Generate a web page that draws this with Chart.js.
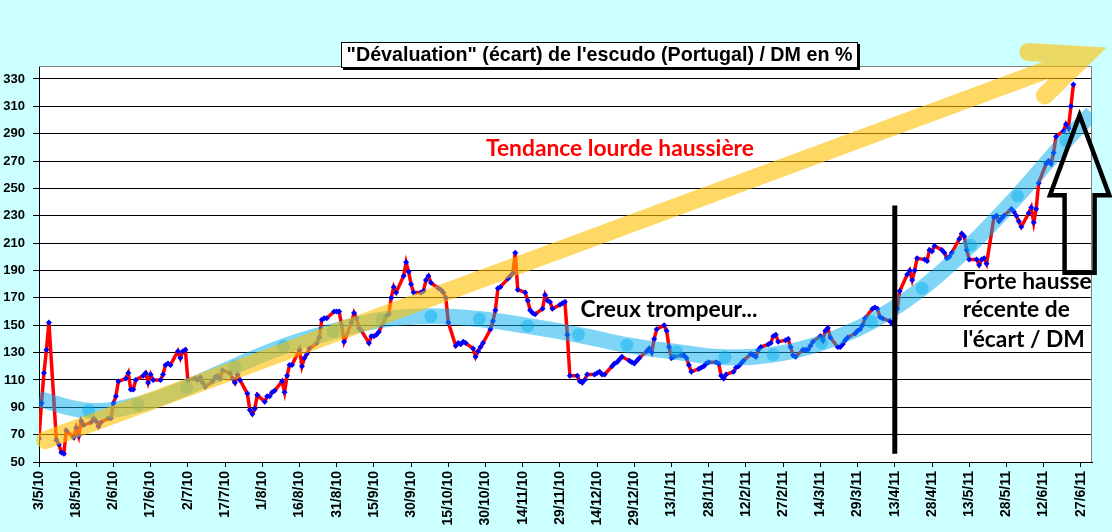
<!DOCTYPE html>
<html lang="fr">
<head>
<meta charset="UTF-8">
<title>Dévaluation de l'escudo / DM</title>
<script src="https://cdn.jsdelivr.net/npm/chart.js"></script>
<style>
  html, body { margin: 0; padding: 0; background: #ccffff; }
  #wrap { width: 1112px; height: 532px; }
</style>
</head>
<body>
<div id="wrap"><canvas id="chart"></canvas></div>
<script>
// écart escudo / DM en %, jours ouvrés à partir du lundi 3/5/10 (une ligne = une semaine)
const ecart = [
  67, 93, 115, 132, 152,
  66, 63, 57, 56, 73,
  68, 75, 69, 80, 77,
  79, 82, 80, 76, 79,
  82, 82, 93, 98, 109,
  111, 115, 103, 103, 110,
  113, 115, 108, 114, 110,
  110, 114, 121, 122, 121,
  131, 126, 131, 132, 110,
  111, 110, 112, 108, 105,
  109, 112, 113, 111, 117,
  115, 111, 108, 114, 110,
  100, 88, 85, 89, 99,
  94, 98, 98, 101, 102,
  109, 101, 113, 121, 121,
  132, 120, 126, 129, 133,
  137, 141, 154, 155, 155,
  160, 160, 160, 150, 138,
  152, 159, 155, 148, 146,
  137, 142, 142, 143, 145,
  157, 158, 170, 178, 174,
  186, 196, 189, 180, 174,
  174, 175, 183, 186, 181,
  177, 176, 174, 170, 152,
  135, 137, 136, 138, 137,
  133, 127, 131, 134, 137,
  147, 153, 161, 177, 178,
  184, 186, 188, 203, 176,
  174, 168, 161, 159, 158,
  162, 172, 168, 167, 162,
  165, 166, 167, 143, 113,
  113, 109, 108, 110, 114,
  114, 115, 116, 114, 114,
  120, 122, 123, 125, 127,
  124, 123, 122, 124, 126,
  131, 133, 130, 140, 147,
  150, 146, 134, 126, 127,
  128, 128, 126, 121, 116,
  118, 119, 120, 122, 123,
  123, 122, 113, 111, 114,
  116, 119, 120, 122, 124,
  129, 128, 127, 132, 134,
  136, 137, 142, 143, 138,
  139, 140, 134, 128, 127,
  132, 132, 132, 135, 138,
  142, 139, 146, 148, 141,
  134, 134, 136, 139, 141,
  144, 146, 147, 150, 155,
  162, 163, 162, 156, 155,
  153, 151, 155, 162, 175,
  187, 190, 183, 190, 199,
  198, 197, 205, 204, 208,
  205, 203, 199, 200, 203,
  213, 217, 215, 205, 198,
  198, 194, 198, 199, 195,
  229, 230, 226, 228, 230,
  235, 233, 230, 226, 222,
  232, 236, 225, 235, 254,
  268, 270, 268, 276, 288,
  292, 297, 294, 310, 326
];

// courbe de tendance bleue (jours depuis le 3/5/10, valeur)
const trendDays   = [0, 20, 40, 59.5, 79, 98.5, 118.5, 138, 158, 177.5, 197, 217.5, 237, 257, 276.5, 296, 315.5, 335.5, 356, 375.5, 394.5, 414, 424.5];
const trendValues = [96, 87.5, 92, 104.5, 120, 134.5, 145.5, 154, 156.5, 154.5, 149.5, 143, 135.5, 130.5, 126.5, 128.5, 137, 152.5, 177, 208.5, 244.5, 285, 305];

const xTickLabels = ['3/5/10', '18/5/10', '2/6/10', '17/6/10', '2/7/10', '17/7/10', '1/8/10', '16/8/10',
  '31/8/10', '15/9/10', '30/9/10', '15/10/10', '30/10/10', '14/11/10', '29/11/10', '14/12/10',
  '29/12/10', '13/1/11', '28/1/11', '12/2/11', '27/2/11', '14/3/11', '29/3/11', '13/4/11',
  '28/4/11', '13/5/11', '28/5/11', '12/6/11', '27/6/11'];
const yTickLabels = [50, 70, 90, 110, 130, 150, 170, 190, 210, 230, 250, 270, 290, 310, 330];

const points = ecart.map((v, i) => ({ x: Math.floor(i / 5) * 7 + i % 5, y: v }));
const trend = trendDays.map((d, i) => ({ x: d, y: trendValues[i] }));

function fitFont(ctx, text, family, width, base) {
  ctx.font = 'bold ' + base + 'px ' + family;
  const size = base * width / ctx.measureText(text).width;
  ctx.font = 'bold ' + size.toFixed(2) + 'px ' + family;
}

const decor = {
  id: 'decor',
  beforeDraw(chart) {
    const { ctx, chartArea: a } = chart;
    ctx.save();
    ctx.fillStyle = '#ffffff';
    ctx.fillRect(a.left, a.top, a.right - a.left, a.bottom - a.top);
    ctx.restore();
  },
  beforeDatasetsDraw(chart) {
    const { ctx, chartArea: a } = chart;
    ctx.save();
    ctx.strokeStyle = '#808080';
    ctx.lineWidth = 1;
    ctx.beginPath();
    ctx.moveTo(a.left, a.top + 0.5);
    ctx.lineTo(a.right - 0.5, a.top + 0.5);
    ctx.lineTo(a.right - 0.5, a.bottom);
    ctx.stroke();
    ctx.restore();
  },
  afterDatasetsDraw(chart) {
    const { ctx } = chart;
    const X = v => chart.scales.x.getPixelForValue(v);
    const Y = v => chart.scales.y.getPixelForValue(v);
    ctx.save();

    // flèche jaune : tendance lourde
    ctx.strokeStyle = 'rgba(255, 192, 0, 0.6)';
    ctx.lineWidth = 18;
    ctx.lineCap = 'round';
    ctx.lineJoin = 'miter';
    ctx.beginPath();
    ctx.moveTo(X(2.5), Y(66));
    ctx.lineTo(X(421), Y(346.5));
    ctx.moveTo(X(398.8), Y(349.7));
    ctx.lineTo(X(422), Y(347.3));
    ctx.lineTo(X(405.5), Y(318));
    ctx.stroke();

    // trait vertical au 13/4/11
    ctx.strokeStyle = '#000';
    ctx.lineWidth = 5;
    ctx.lineCap = 'butt';
    ctx.beginPath();
    ctx.moveTo(X(345), Y(56));
    ctx.lineTo(X(345), Y(237.5));
    ctx.stroke();

    // grosse flèche vers le haut
    const cx = 419.5;
    ctx.lineWidth = 4.5;
    ctx.lineJoin = 'miter';
    ctx.beginPath();
    ctx.moveTo(X(cx), Y(303.5));
    ctx.lineTo(X(cx + 11.95), Y(245.1));
    ctx.lineTo(X(cx + 6.05), Y(245.1));
    ctx.lineTo(X(cx + 6.05), Y(188.4));
    ctx.lineTo(X(cx - 6.05), Y(188.4));
    ctx.lineTo(X(cx - 6.05), Y(245.1));
    ctx.lineTo(X(cx - 11.95), Y(245.1));
    ctx.closePath();
    ctx.stroke();

    // textes
    ctx.textBaseline = 'alphabetic';
    ctx.textAlign = 'left';
    ctx.fillStyle = '#ff0000';
    fitFont(ctx, 'Tendance lourde haussière', 'Lato', 268, 20);
    ctx.fillText('Tendance lourde haussière', X(180.2), Y(273.8));

    ctx.fillStyle = '#000';
    fitFont(ctx, 'Creux trompeur...', 'Lato', 177, 20);
    ctx.fillText('Creux trompeur...', X(218.3), Y(155.8));

    fitFont(ctx, 'Forte hausse', 'Lato', 129, 20);
    ctx.fillText('Forte hausse', X(372.4), Y(176.3));
    ctx.fillText('récente de', X(372.4), Y(156.3));
    ctx.fillText("l'écart / DM", X(372.4), Y(134.4));
    ctx.restore();
  },
  afterDraw(chart) {
    const { ctx } = chart;
    const title = '"Dévaluation" (écart) de l\'escudo (Portugal) / DM en %';
    ctx.save();
    ctx.fillStyle = '#000';
    ctx.fillRect(343, 44, 517, 26);
    ctx.fillStyle = '#fff';
    ctx.fillRect(341, 42, 517, 26);
    ctx.strokeStyle = '#000';
    ctx.lineWidth = 1;
    ctx.strokeRect(341.5, 42.5, 516, 25);
    ctx.fillStyle = '#000';
    fitFont(ctx, title, 'Liberation Sans', 506, 18);
    ctx.textAlign = 'center';
    ctx.textBaseline = 'alphabetic';
    ctx.fillText(title, 599.5, 61);
    ctx.restore();
  }
};

new Chart(document.getElementById('chart'), {
  type: 'line',
  data: {
    datasets: [
      {
        label: 'Écart escudo / DM',
        data: points,
        borderColor: '#ff0000',
        borderWidth: 3.5,
        pointStyle: 'rectRot',
        pointRadius: 3,
        pointBackgroundColor: '#0000ff',
        pointBorderWidth: 0,
        tension: 0,
        order: 2
      },
      {
        label: 'Tendance',
        data: trend,
        borderColor: 'rgba(0, 172, 238, 0.5)',
        borderWidth: 16,
        borderCapStyle: 'butt',
        tension: 0.4,
        pointRadius: ctx => (ctx.dataIndex === 0 || ctx.dataIndex === trendDays.length - 1) ? 0 : 6.5,
        pointBackgroundColor: 'rgba(0, 172, 238, 0.45)',
        pointBorderWidth: 0,
        order: 1
      }
    ]
  },
  options: {
    responsive: true,
    maintainAspectRatio: false,
    animation: false,
    layout: { padding: { left: 0, right: 20, top: 66, bottom: 0 } },
    plugins: {
      legend: { display: false },
      tooltip: { enabled: false }
    },
    scales: {
      x: {
        type: 'linear',
        min: 0,
        max: 424.5,
        afterBuildTicks: s => { s.ticks = xTickLabels.map((l, i) => ({ value: i * 15 })); },
        afterFit: s => { s.height = 70; },
        ticks: {
          autoSkip: false,
          minRotation: 90,
          maxRotation: 90,
          padding: 4,
          color: '#000',
          font: { family: 'Liberation Sans', size: 14, weight: 'bold' },
          callback: (v, i) => xTickLabels[i]
        },
        grid: { drawOnChartArea: false, color: '#000', tickLength: 5 },
        border: { color: '#000' }
      },
      y: {
        min: 50,
        max: 339.5,
        afterBuildTicks: s => { s.ticks = yTickLabels.map(v => ({ value: v })); },
        afterFit: s => { s.width = 39; },
        ticks: {
          padding: 8,
          color: '#000',
          font: { family: 'Liberation Sans', size: 13, weight: 'bold' },
          callback: v => String(v)
        },
        grid: { color: '#000', tickLength: 6 },
        border: { color: '#000' }
      }
    }
  },
  plugins: [decor]
});
</script>
</body>
</html>
